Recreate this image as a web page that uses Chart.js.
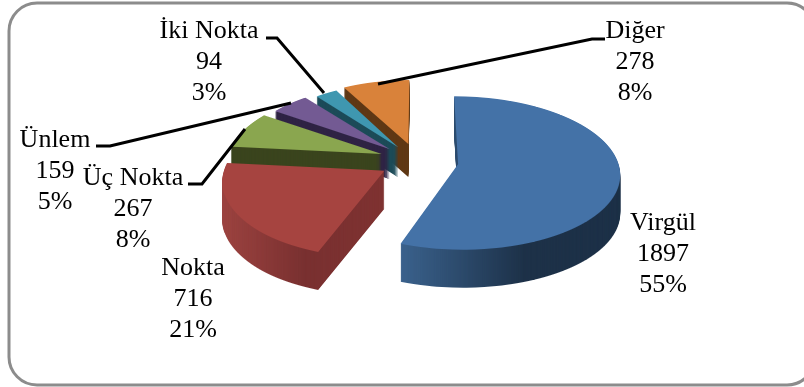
<!DOCTYPE html>
<html><head><meta charset="utf-8">
<style>html,body{margin:0;padding:0;background:#fff;overflow:hidden}canvas{display:block}</style>
<script src="https://cdn.jsdelivr.net/npm/chart.js@4/dist/chart.umd.min.js"></script>
</head><body>
<canvas id="c" width="804" height="387"></canvas>
<script>
const categories = ["Virgül","Nokta","Üç Nokta","Ünlem","İki Nokta","Diğer"];
const values = [1897,716,267,159,94,278];
const percents = ["55%","21%","8%","5%","3%","8%"];

const faceColors = ["#4472a7","#a64440","#8aa64f","#735a93","#3f97b0","#d9823a"];
const wallStops = [
  [[402,"#3a618c"],[525,"#1d3148"],[620,"#1c3047"]],
  [[222,"#9c4340"],[305,"#793030"],[390,"#7f3231"]],
  [[0,"#3a441d"],[804,"#3a441d"]],
  [[0,"#2f2344"],[804,"#2f2344"]],
  [[0,"#1c4b58"],[804,"#1c4b58"]],
  [[0,"#5f3815"],[804,"#5f3815"]]
];
const wallDepth = [38,38,30,30,30,33];
const sliceScaleX = [0.98,0.97,0.95,0.93,0.9,0.92];
const sliceShiftX = [1.5,0,0,0,2,0];
const sliceShiftY = [-1,-1,-2,-1,0,-1];
const drawOrder = [5,4,3,2,1,0];
const labelPos = [[663,223],[193,268],[133,178],[55,140],[209,31],[635,31]];
const leaders = [
  null,null,
  [[188,184],[202,184],[245,129]],
  [[96,146],[110,146],[291,103]],
  [[266,38],[277,38],[324,93]],
  [[378,84],[592,39],[605,39]]
];
const W=804,H=387;
const proj={cx:418,cy:162,s:0.46,p:0.0007,explode:39,yMin:-110,yMax:110};

function paintMapped(ctx,el,color,i){
  const clone=Object.create(el);
  clone.options=Object.assign({},el.options,{backgroundColor:color,borderWidth:0,offset:0});
  const mid=(el.startAngle+el.endAngle)/2;
  const ex=Math.cos(mid)*proj.explode, ey=Math.sin(mid)*proj.explode;
  const sx=sliceScaleX[i];
  for(let Y=proj.yMin;Y<proj.yMax;Y++){
    const v0=Y/(proj.s+proj.p*Y), v1=(Y+1)/(proj.s+proj.p*(Y+1));
    const f=1/(1-proj.p*(v0+v1)/2), g=1/(v1-v0);
    ctx.save();
    ctx.beginPath();ctx.rect(0,proj.cy+Y+sliceShiftY[i],W,1);ctx.clip();
    ctx.setTransform(f*sx,0,0,g,proj.cx+sliceShiftX[i]+f*(ex-sx*el.x),proj.cy+sliceShiftY[i]+Y+g*(ey-el.y-v0));
    clone.draw(ctx);
    ctx.restore();
  }
}
const pie3d={
  id:'pie3d',
  beforeDatasetsDraw(chart){
    const ctx=chart.ctx, arcs=chart.getDatasetMeta(0).data;
    drawOrder.forEach(i=>{
      const el=arcs[i];
      const off=document.createElement('canvas');off.width=W;off.height=H;
      const o=off.getContext('2d');
      paintMapped(o,el,'#000',i);
      const stops=wallStops[i];
      const a=stops[0][0], b=stops[stops.length-1][0];
      const gr=o.createLinearGradient(a,0,b,0);
      stops.forEach(s=>gr.addColorStop((s[0]-a)/(b-a),s[1]));
      o.globalCompositeOperation='source-in';
      o.fillStyle=gr;o.fillRect(0,0,W,H);
      for(let d=wallDepth[i];d>=1;d--)ctx.drawImage(off,0,d);
      paintMapped(ctx,el,faceColors[i],i);
    });
    return false;
  },
  afterDraw(chart){
    const ctx=chart.ctx;
    ctx.save();
    ctx.lineWidth=3;ctx.strokeStyle='#8c8c8c';
    ctx.beginPath();ctx.roundRect(9,3,806,382,28);ctx.stroke();
    ctx.strokeStyle='#000';ctx.lineWidth=3;ctx.lineJoin='miter';
    leaders.forEach(l=>{
      if(!l)return;
      ctx.beginPath();l.forEach((p,k)=>k?ctx.lineTo(p[0],p[1]):ctx.moveTo(p[0],p[1]));ctx.stroke();
    });
    ctx.fillStyle='#000';ctx.textAlign='center';ctx.textBaseline='middle';
    ctx.font='26px "Liberation Serif"';
    categories.forEach((c,i)=>{
      const [x,y]=labelPos[i];
      ctx.fillText(c,x,y);
      ctx.fillText(String(values[i]),x,y+31);
      ctx.fillText(percents[i],x,y+62);
    });
    ctx.restore();
  }
};
new Chart(document.getElementById('c'),{
  type:'pie',
  data:{labels:categories,datasets:[{data:values,backgroundColor:faceColors,borderWidth:0,radius:163}]},
  options:{responsive:false,animation:false,devicePixelRatio:1,
    plugins:{legend:{display:false},tooltip:{enabled:false}}},
  plugins:[pie3d]
});
</script>
</body></html>
